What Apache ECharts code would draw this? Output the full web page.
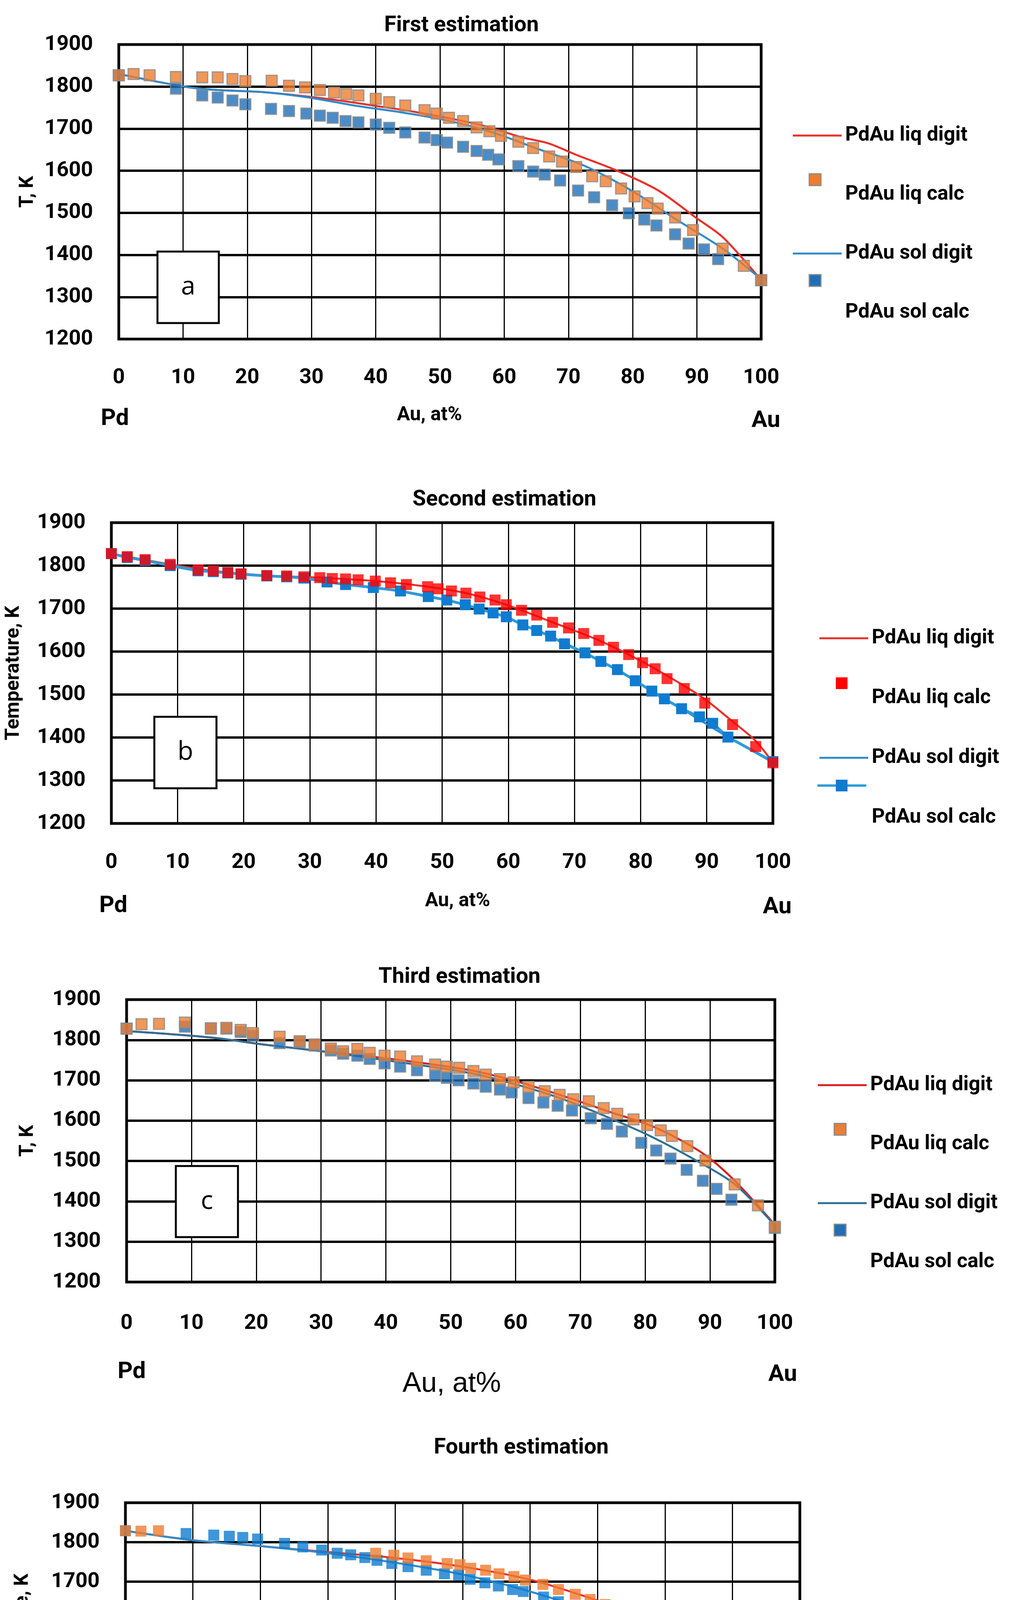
<!DOCTYPE html>
<html><head><meta charset="utf-8">
<script src="https://cdn.jsdelivr.net/npm/echarts@6/dist/echarts.min.js"></script>
<style>html,body{margin:0;padding:0;background:#fff}#c{width:2636px;height:4904px}</style>
</head><body><div id="c"></div>
<script>
const titles=['First estimation','Second estimation','Third estimation','Fourth estimation'];
const yNames=['T, K','Temperature, K','T, K','Temperature, K'];
const panelLetters=['a','b','c','d'];
const yTicks=[1200,1300,1400,1500,1600,1700,1800,1900];
const xTicks=[0,10,20,30,40,50,60,70,80,90,100];
const legendNames=['PdAu liq digit','PdAu liq calc','PdAu sol digit','PdAu sol calc'];
// Panel a
const aLiqDigit=[[0,1830],[10.2,1800],[15.2,1792],[22.4,1787],[29.6,1776],[35.3,1765],[39.6,1755],[45.3,1742],[51,1726],[56.8,1707],[62.6,1680],[66.9,1665],[71.2,1638],[77.6,1600],[84,1553],[89.8,1489],[94.1,1441],[100,1340]];
const aLiqCalc=[[0,1827],[2.3,1830],[4.8,1827],[8.9,1823],[13,1822],[15.4,1822],[17.7,1818],[19.7,1813],[23.8,1814],[26.5,1802],[29,1798],[31.3,1792],[33.5,1786],[35.4,1782],[37.3,1779],[40,1771],[42.1,1763],[44.6,1755],[47.6,1744],[49.5,1736],[51.4,1726],[53.6,1718],[55.7,1703],[57.7,1694],[59.5,1683],[62.2,1669],[64.5,1654],[67,1634],[69,1622],[71.2,1609],[73.7,1587],[75.8,1575],[78.2,1558],[80.3,1539],[82.3,1523],[83.9,1510],[86.6,1489],[89.4,1459],[94,1415],[97.3,1374],[100,1340]];
const aSolDigit=[[0,1830],[10.2,1800],[15.2,1792],[22.4,1787],[29.6,1774],[36.7,1755],[43.9,1739],[51,1720],[58.2,1691],[65.4,1651],[72.6,1611],[79.8,1553],[86.9,1483],[94.1,1414],[100,1342]];
const aSolCalc=[[0,1827],[8.9,1795],[13,1779],[15.4,1774],[17.7,1767],[19.7,1758],[23.7,1747],[26.5,1742],[29.2,1736],[31.3,1731],[33.3,1726],[35.3,1718],[37.3,1715],[40,1710],[42.1,1702],[44.6,1691],[47.6,1679],[49.5,1673],[51.1,1667],[53.6,1657],[55.7,1647],[57.5,1638],[59.1,1627],[62.2,1611],[64.5,1598],[66.3,1591],[68.7,1577],[71.5,1553],[74,1537],[76.8,1518],[79.4,1499],[81.8,1484],[83.7,1470],[86.6,1449],[88.7,1427],[91.1,1413],[93.3,1390],[100,1340]];
// Panel b
const bLiqDigit=[[0,1828],[8.9,1803],[15.4,1788],[23.5,1777],[31.5,1772],[39.9,1764],[47.8,1751],[53.6,1736],[59.7,1709],[66.7,1668],[73.7,1626],[80.3,1576],[86.6,1520],[90,1486],[94,1436],[97.4,1392],[100,1341]];
const bLiqCalc=[[0,1828],[2.4,1821],[5.1,1814],[8.9,1803],[13.1,1790],[15.4,1788],[17.6,1784],[19.6,1781],[23.5,1777],[26.5,1776],[29.1,1774],[31.5,1772],[33.4,1770],[35.4,1769],[37.3,1767],[39.9,1764],[42.2,1760],[44.6,1756],[47.8,1751],[49.4,1746],[51.4,1741],[53.6,1736],[55.7,1727],[58,1720],[59.7,1709],[62,1696],[64.3,1685],[66.7,1668],[69.1,1655],[71.4,1642],[73.7,1626],[75.9,1610],[78.2,1593],[80.3,1574],[82.2,1560],[84,1537],[86.6,1514],[89.7,1480],[93.9,1430],[97.4,1379],[100,1341]];
const bSolDigit=[[0,1828],[8.9,1800],[15.4,1786],[23.5,1776],[29.1,1771],[35.4,1756],[43.7,1741],[50.7,1720],[57.7,1690],[64.3,1649],[71.6,1597],[79.2,1532],[86.2,1467],[93.2,1401],[100,1342]];
const bSolCalc=[[0,1828],[2.4,1819],[5.1,1812],[8.9,1800],[13.1,1788],[15.4,1786],[17.6,1783],[19.6,1780],[23.5,1776],[26.5,1774],[29.1,1771],[32.6,1762],[35.4,1756],[39.6,1749],[43.7,1741],[47.9,1728],[50.7,1720],[53.5,1709],[55.6,1699],[57.7,1690],[59.7,1681],[62.2,1662],[64.3,1649],[66.4,1636],[68.5,1618],[71.6,1597],[74,1577],[76.5,1558],[79.2,1532],[81.7,1508],[83.6,1490],[86.2,1467],[88.9,1448],[90.9,1433],[93.2,1401],[100,1344]];
// Panel c
const cLiqDigit=[[0,1822],[13.1,1806],[21,1789],[30.2,1772],[42.3,1750],[53,1725],[60,1698],[67.2,1662],[74.3,1623],[81.4,1584],[88.5,1523],[93.5,1456],[100,1342]];
const cLiqCalc=[[0,1828],[2.3,1839],[5,1840],[9,1843],[13,1829],[15.4,1830],[17.6,1825],[19.5,1817],[23.6,1808],[26.7,1797],[29,1789],[31.5,1779],[33.4,1772],[35.6,1778],[37.5,1768],[39.8,1761],[42.2,1759],[44.8,1747],[47.6,1739],[49.4,1734],[51.3,1731],[53.5,1723],[55.4,1714],[57.6,1703],[59.7,1695],[62,1684],[64.5,1673],[66.8,1664],[68.9,1653],[71.3,1648],[73.6,1631],[75.7,1617],[78.2,1603],[80.3,1589],[82.4,1576],[84.1,1562],[86.5,1537],[89.3,1501],[93.8,1442],[97.4,1390],[100,1337]];
const cSolDigit=[[0,1822],[13,1806],[21,1789],[30,1772],[42,1745],[53,1718],[60,1690],[67,1655],[74,1610],[81,1560],[88,1500],[94,1440],[100,1340]];
const cSolCalc=[[0,1828],[9,1833],[13,1828],[15.4,1828],[17.6,1820],[19.5,1811],[23.6,1792],[26.7,1795],[29,1786],[31.5,1774],[33.4,1766],[35.6,1761],[37.5,1753],[39.8,1742],[42.2,1734],[44.8,1725],[47.6,1711],[49.4,1706],[51.2,1700],[53.5,1692],[55.4,1684],[57.6,1677],[59.4,1670],[62,1656],[64.3,1645],[66.5,1637],[68.7,1625],[71.6,1606],[74.1,1592],[76.4,1573],[79.4,1545],[81.7,1526],[83.9,1506],[86.4,1478],[88.9,1451],[91,1431],[93.3,1404],[100,1334]];
// Panel d
const dLiqDigit=[[0,1829],[10,1805],[20,1790],[30,1775],[40,1760],[50,1738],[60,1705],[70,1652],[80,1590],[90,1490],[95,1430],[100,1340]];
const dLiqCalc=[[0,1829],[2.3,1828],[4.9,1829],[37.1,1772],[39.8,1767],[41.9,1760],[44.6,1753],[47.7,1746],[49.6,1743],[51.2,1734],[53.4,1729],[55.4,1720],[57.6,1713],[59.3,1704],[61.9,1693],[64.2,1680],[66.7,1668],[68.9,1655],[71.1,1642],[73.5,1629],[75.6,1615],[77.9,1601],[80,1584],[82.2,1571],[83.8,1555],[86.3,1530],[89.3,1500],[93.6,1443],[97.3,1391],[100,1337]];
const dSolDigit=[[0,1829],[10,1805],[20,1790],[30,1772],[40,1748],[50,1718],[60,1675],[70,1618],[80,1545],[90,1440],[95,1390],[100,1337]];
const dSolCalc=[[0,1829],[9,1822],[13.1,1818],[15.4,1815],[17.4,1812],[19.6,1808],[23.6,1797],[26.3,1788],[29.1,1780],[31.4,1772],[33.4,1768],[35.5,1761],[37.3,1754],[39.5,1746],[41.9,1738],[44.6,1729],[47.3,1720],[49.4,1717],[51.1,1706],[53.3,1697],[55.3,1689],[57.4,1680],[59,1675],[62,1661],[64.2,1649],[66.3,1638],[68.3,1626],[71.6,1609],[73.7,1592],[76.3,1570],[79.1,1547],[81.5,1521],[83.6,1504],[86.3,1473],[88.7,1451],[90.8,1428],[93.2,1405],[100,1337]];

const panels=[
 {grid:[304,114,1644,754],data:[aLiqDigit,aLiqCalc,aSolDigit,aSolCalc],cols:['#E8302A','#ED7D31','#2E8BC9','#1F6FB8'],border:'#8a8a8a',leg:[2024,316,99],title:[1181,66],
  box:[403,644,157,183],pd:[294,1073],au:[1960,1078],at:[1099,1063],atSize:50,tickY:967,yName:96},
 {grid:[285,1338,1693,770],data:[bLiqDigit,bLiqCalc,bSolDigit,bSolCalc],cols:['#E8302A','#FF0000','#2E8BC9','#0F7CD0'],border:null,leg:[2092,1603,101],title:[1291,1280],
  box:[395,1835,159,183],pd:[290,2320],au:[1989,2323],at:[1171,2307],atSize:50,tickY:2208,yName:60},
 {grid:[324,2559,1659,723],data:[cLiqDigit,cLiqCalc,cSolDigit,cSolCalc],cols:['#D81F1F','#ED7D31','#2F6F94','#1F6FB8'],border:'#8a8a8a',leg:[2088,2747,99],title:[1176,2502],
  box:[450,2985,159,182],pd:[337,3513],au:[2003,3520],at:[1156,3543],atSize:72,tickY:3388,yName:96},
 {grid:[321,3847,1726,707],data:[dLiqDigit,dLiqCalc,dSolDigit,dSolCalc],cols:['#E8302A','#ED7D31','#2E8BC9','#0F7CD0'],border:null,leg:[2130,4123,98],title:[1334,3707],
  box:[430,4249,159,182],pd:[404,4840],au:[2015,4835],at:[1165,4828],atSize:50,tickY:4657,yName:83}
];
const FONT='Roboto,"Liberation Sans",sans-serif';
const TICK=54;
const grid=[],xAxis=[],yAxis=[],series=[],legend=[],graphic=[];
panels.forEach((p,i)=>{
  const [l,t,w,h]=p.grid;
  grid.push({left:l,top:t,width:w,height:h,containLabel:false});
  xAxis.push({gridIndex:i,type:'value',min:0,max:100,interval:10,
    axisLine:{show:true,onZero:false,lineStyle:{color:'#000',width:6}},axisTick:{show:false},
    axisLabel:{color:'#000',fontSize:TICK,fontWeight:'bold',fontFamily:FONT,margin:p.tickY-(t+h)-TICK/2,formatter:v=>String(v)},
    splitLine:{show:true,lineStyle:{color:'#000',width:3}}});
  yAxis.push({gridIndex:i,type:'value',min:1200,max:1900,interval:100,
    name:yNames[i],nameLocation:'middle',nameRotate:90,nameGap:l-p.yName,
    nameTextStyle:{color:'#000',fontSize:50,fontWeight:'bold',fontFamily:FONT},
    axisLine:{show:true,lineStyle:{color:'#000',width:6}},axisTick:{show:false},
    axisLabel:{color:'#000',fontSize:TICK,fontWeight:'bold',fontFamily:FONT,margin:66,formatter:v=>String(v)},
    splitLine:{show:true,lineStyle:{color:'#000',width:6}}});
  graphic.push({type:'rect',shape:{x:l,y:t,width:w,height:h},style:{fill:null,stroke:'#000',lineWidth:7},z:1});
  const names=legendNames.map(n=>panelLetters[i]+'|'+n);
  const [ld,lc,sd,sc]=p.data;
  const calcStyle=(c)=>({color:c,borderColor:p.border||c,borderWidth:p.border?3:0});
  series.push({name:names[0],type:'line',xAxisIndex:i,yAxisIndex:i,data:ld,smooth:0.3,showSymbol:false,symbol:'none',lineStyle:{color:p.cols[0],width:5},itemStyle:{color:p.cols[0]},z:3});
  series.push({name:names[2],type:'line',xAxisIndex:i,yAxisIndex:i,data:sd,smooth:0.3,showSymbol:false,symbol:'none',lineStyle:{color:p.cols[2],width:5},itemStyle:{color:p.cols[2]},z:3});
  if(i===1){
    series.push({name:names[3],type:'line',xAxisIndex:i,yAxisIndex:i,data:sc,symbol:'rect',symbolSize:28,lineStyle:{color:'#2E9BD8',width:7},itemStyle:{color:p.cols[3]},z:4});
  } else {
    series.push({name:names[3],type:'scatter',xAxisIndex:i,yAxisIndex:i,data:sc,symbol:'rect',symbolSize:28,itemStyle:calcStyle(p.cols[3]),z:4});
  }
  series.push({name:names[1],type:'scatter',xAxisIndex:i,yAxisIndex:i,data:lc,symbol:'rect',symbolSize:28,itemStyle:calcStyle(p.cols[1]),z:5});
  const sq='path://M-48,0H0V0H-48Z M0,0H30V30H0Z';
  legend.push({orient:'vertical',left:p.leg[0],top:p.leg[1],itemGap:p.leg[2],itemWidth:125,itemHeight:30,
    data:[{name:names[0],icon:'path://M0,0H125V5H0Z',itemStyle:{color:p.cols[0]}},
          {name:names[1],icon:'path://M0,0H125V30H0Z',itemStyle:{color:'rgba(0,0,0,0)',borderWidth:0,decal:null}},
          {name:names[2],icon:'path://M0,0H125V5H0Z',itemStyle:{color:p.cols[2]}},
          {name:names[3],icon:'path://M0,0H125V30H0Z',itemStyle:{color:'rgba(0,0,0,0)',borderWidth:0}}],
    formatter:n=>n.split('|')[1],selectedMode:false,
    textStyle:{color:'#000',fontSize:52,fontWeight:'bold',fontFamily:FONT,lineHeight:30,padding:[0,0,0,4]}});
  // square markers for the calc legend items (drawn at the legend's icon slots)
  const iconCx=p.leg[0]+62;
  const rows=[0,1,2,3].map(k=>p.leg[1]+15+k*(30+p.leg[2]));
  const sqStyle=(c)=>({fill:c,stroke:p.border||c,lineWidth:p.border?3:0});
  graphic.push({type:'rect',shape:{x:iconCx-15,y:rows[1]-15,width:30,height:30},style:sqStyle(p.cols[1]),z:20});
  if(i===1){
    graphic.push({type:'line',shape:{x1:p.leg[0],y1:rows[3],x2:p.leg[0]+125,y2:rows[3]},style:{stroke:'#2E9BD8',lineWidth:6},z:19});
  }
  graphic.push({type:'rect',shape:{x:iconCx-15,y:rows[3]-15,width:30,height:30},style:sqStyle(p.cols[3]),z:20});
  graphic.push({type:'text',x:p.title[0],y:p.title[1],style:{text:titles[i],fontSize:56,fontWeight:'bold',fontFamily:FONT,fill:'#000',align:'center',verticalAlign:'middle'}});
  graphic.push({type:'rect',shape:{x:p.box[0],y:p.box[1],width:p.box[2],height:p.box[3]},style:{fill:'#fff',stroke:'#000',lineWidth:5},z:10});
  graphic.push({type:'text',x:p.box[0]+p.box[2]/2,y:p.box[1]+p.box[3]/2,style:{text:panelLetters[i],fontSize:66,fontFamily:'"Open Sans",sans-serif',fill:'#000',align:'center',verticalAlign:'middle'},z:11});
  graphic.push({type:'text',x:p.pd[0],y:p.pd[1],style:{text:'Pd',fontSize:60,fontWeight:'bold',fontFamily:FONT,fill:'#000',align:'center',verticalAlign:'middle'}});
  graphic.push({type:'text',x:p.au[0],y:p.au[1],style:{text:'Au',fontSize:60,fontWeight:'bold',fontFamily:FONT,fill:'#000',align:'center',verticalAlign:'middle'}});
  graphic.push({type:'text',x:p.at[0],y:p.at[1],style:{text:'Au, at%',fontSize:p.atSize,fontWeight:i===2?'normal':'bold',fontFamily:i===2?'"Liberation Sans",sans-serif':FONT,fill:'#000',align:'center',verticalAlign:'middle'}});
});
const chart=echarts.init(document.getElementById('c'),null,{renderer:'canvas'});
chart.setOption({backgroundColor:'#fff',animation:false,grid,xAxis,yAxis,series,legend,graphic});
</script></body></html>
